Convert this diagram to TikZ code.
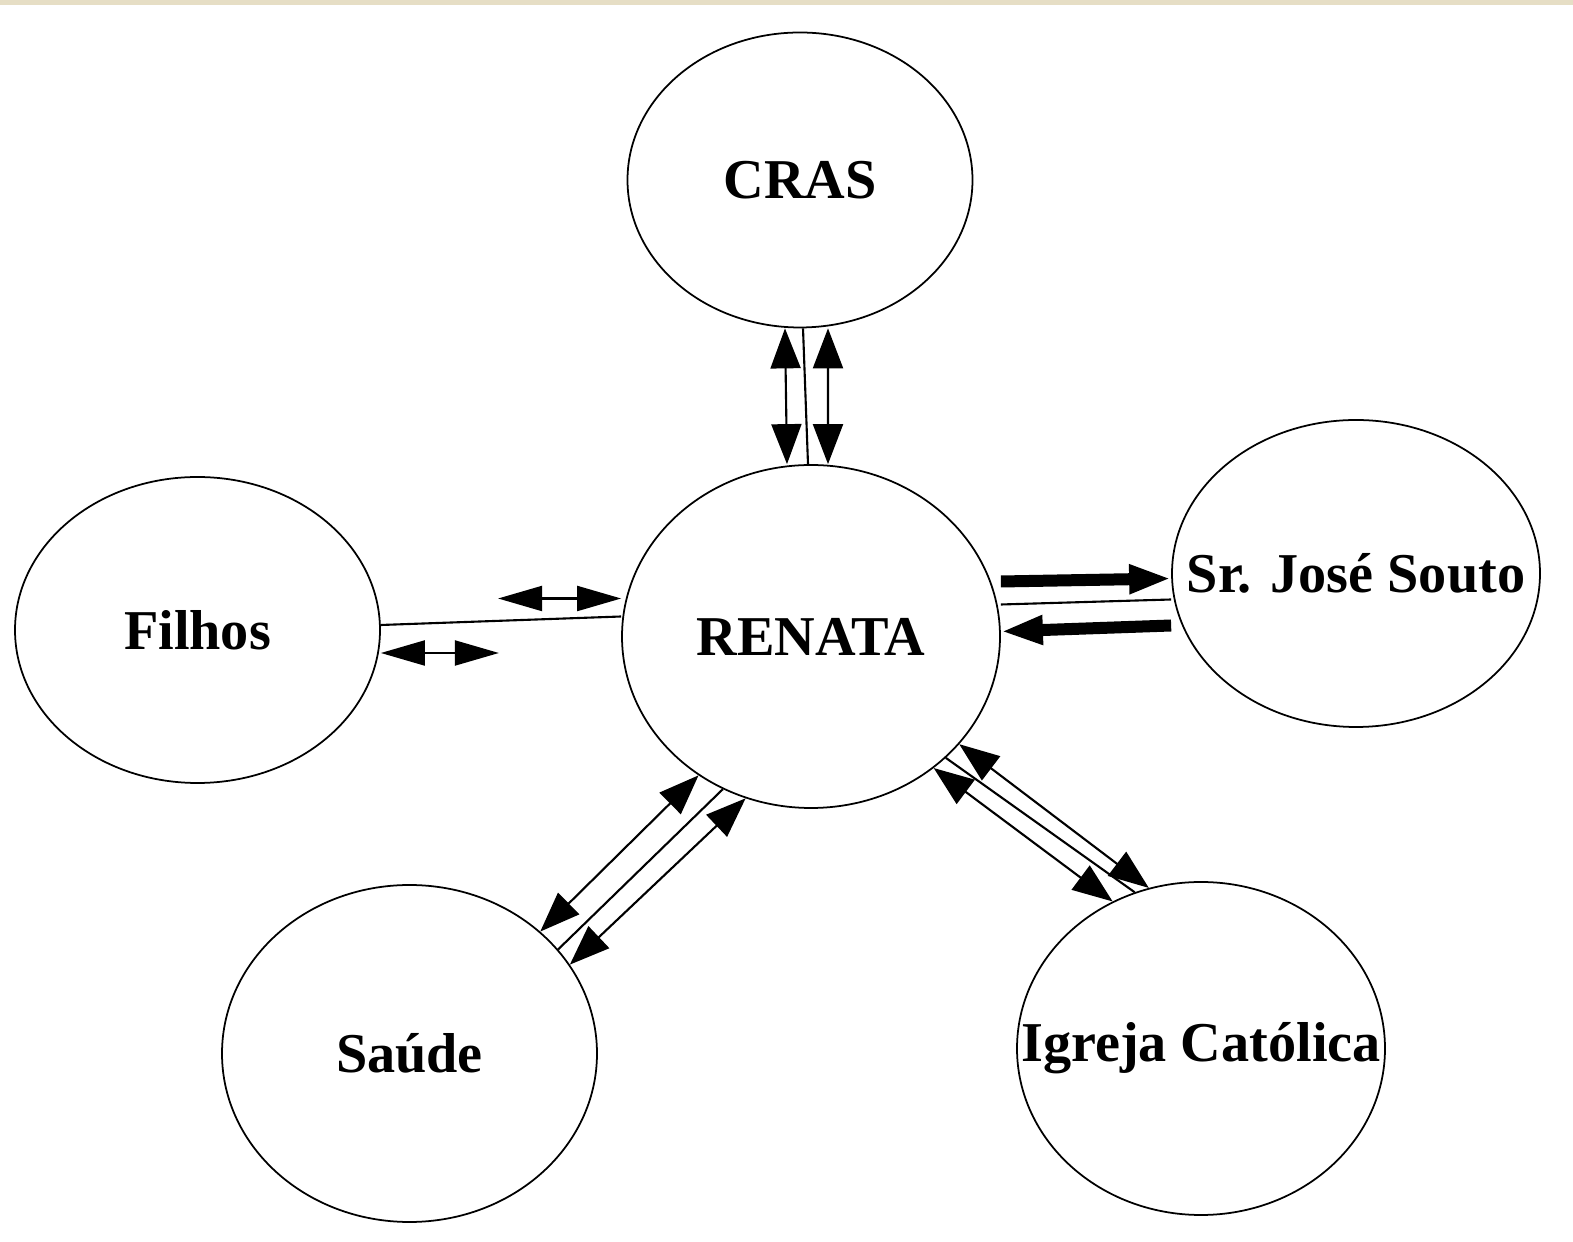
\documentclass[tikz,border=0pt]{standalone}
\usepackage{fontspec}
\setmainfont{Liberation Serif}
\usetikzlibrary{shapes.geometric, arrows.meta}
\definecolor{band}{HTML}{E6DEC5}

\begin{document}
\begin{tikzpicture}
	\tikzset{lbl/.style = {font=\bfseries\fontsize{16}{19}\selectfont}}
	\tikzset{bub/.style = {shape=ellipse, draw, line width=0.5pt, inner sep=0pt, label={[lbl]center:#1}}}
	\tikzset{edge/.style = {line width=0.6pt}}
	\tikzset{big/.style = {{Triangle[length=0.4cm, width=0.3cm]}-{Triangle[length=0.4cm, width=0.3cm]}, line width=0.6pt}}
	\tikzset{small/.style = {{Triangle[length=0.44cm, width=0.25cm]}-{Triangle[length=0.44cm, width=0.25cm]}, line width=0.6pt}}
	\tikzset{heavy/.style = {-{Triangle[length=0.42cm, width=0.27cm]}, line width=0.12cm}}
	\fill[white] (0, 0) rectangle (15.73, 12.41);
	\fill[band] (0, 12.36) rectangle (15.73, 12.41);
	\useasboundingbox (0, 0) rectangle (15.73, 12.41);
	\node[bub=CRAS, minimum width=3.45cm, minimum height=2.95cm] (cras) at (8.00, 10.61) {};
	\node[bub=RENATA, minimum width=3.78cm, minimum height=3.43cm] (renata) at (8.11, 6.045) {};
	\node[bub=Filhos, minimum width=3.65cm, minimum height=3.06cm] (filhos) at (1.975, 6.11) {};
	\node[bub=Sr. José Souto, minimum width=3.68cm, minimum height=3.07cm] (jose) at (13.56, 6.675) {};
	\node[bub=Saúde, minimum width=3.75cm, minimum height=3.37cm] (saude) at (4.095, 1.875) {};
	\node[bub=Igreja Católica, minimum width=3.68cm, minimum height=3.33cm] (igreja) at (12.01, 1.925) {};
	% CRAS
	\draw[big] ([xshift=-1.5mm]cras.south) to ([xshift=-2.4mm]renata.north);
	\draw[edge] ([xshift=0.3mm]cras.south) to ([xshift=-0.3mm]renata.north);
	\draw[big] ([xshift=2.8mm]cras.south) to ([xshift=1.7mm]renata.north);
	% Filhos
	\draw[small] ([yshift=3.8mm]renata.west) to ++(-1.23, 0);
	\draw[edge] ([yshift=0.5mm]filhos.east) to ([yshift=2mm]renata.west);
	\draw[small] ([yshift=-2.3mm]filhos.east) to ++(1.18, 0);
	% Sr. Jose Souto
	\draw[heavy] ([yshift=5.5mm]renata.east) to ([yshift=-0.5mm]jose.west);
	\draw[edge] ([yshift=3.2mm]renata.east) to ([yshift=-2.6mm]jose.west);
	\draw[heavy] ([yshift=-5.2mm]jose.west) to ([yshift=0.5mm]renata.east);
	% Saude
	\draw[big] (renata.231.9) to (saude.43.7);
	\draw[edge] (renata.240.2) to (saude.35.8);
	\draw[big] (renata.248) to (saude.29.2);
	% Igreja
	\draw[big] (renata.324.1) to (igreja.108.1);
	\draw[edge] (renata.318.8) to (igreja.113.7);
	\draw[big] (renata.313.4) to (igreja.121.8);
\end{tikzpicture}
\end{document}
